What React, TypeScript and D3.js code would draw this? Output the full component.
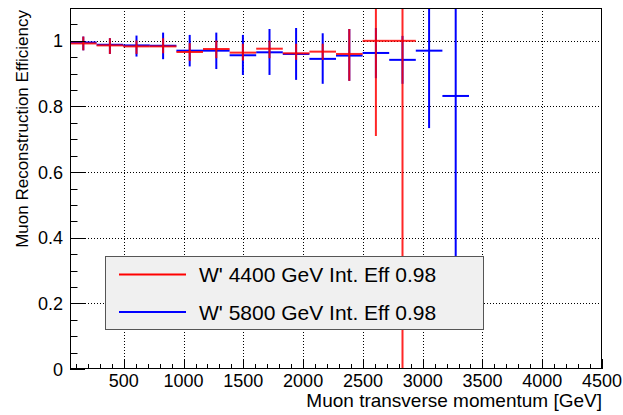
import { useEffect, useRef } from 'react';
import * as d3 from 'd3';

// Bin lower edges (GeV); every bin is BIN_W wide, axis runs from 50 to 4500.
const binLow = [50, 272.5, 495, 717.5, 940, 1162.5, 1385, 1607.5, 1830, 2052.5, 2275, 2497.5, 2720, 2942.5, 3165];
const BIN_W = 222.5;

// W' 4400 GeV: efficiency and lower / upper ends of the error bar
const redEff = [0.992, 0.986, 0.983, 0.983, 0.966, 0.975, 0.964, 0.976, 0.962, 0.967, 0.96, 1.0, 1.0];
const redLo = [0.971, 0.96, 0.96, 0.962, 0.939, 0.947, 0.94, 0.947, 0.942, 0.942, 0.878, 0.71, -0.2];
const redHi = [1.013, 1.008, 1.001, 1.008, 0.993, 1.001, 0.991, 1.001, 0.991, 0.991, 1.036, 1.29, 2.0];

// W' 5800 GeV
const blueEff = [0.995, 0.988, 0.986, 0.985, 0.97, 0.97, 0.956, 0.965, 0.96, 0.945, 0.955, 0.963, 0.942, 0.97, 0.832];
const blueLo = [0.971, 0.96, 0.952, 0.944, 0.922, 0.914, 0.896, 0.896, 0.881, 0.869, 0.878, 0.886, 0.869, 0.734, 0.3];
const blueHi = [1.013, 1.008, 1.016, 1.025, 1.018, 1.025, 1.018, 1.036, 1.039, 1.023, 1.036, 1.039, 1.015, 1.206, 1.36];

const xTicks = [500, 1000, 1500, 2000, 2500, 3000, 3500, 4000, 4500];
const yTicks = [0, 0.2, 0.4, 0.6, 0.8, 1];
const yTickLabels = ['0', '0.2', '0.4', '0.6', '0.8', '1'];

const legendLabels = ["W' 4400 GeV Int. Eff 0.98", "W' 5800 GeV Int. Eff 0.98"];
const RED = '#ff0000';
const BLUE = '#0000ff';

const FONT = '"Liberation Sans", Arial, Helvetica, sans-serif';

export default function App() {
  const ref = useRef<SVGSVGElement | null>(null);

  useEffect(() => {
    const width = 623;
    const height = 415;
    const frame = { left: 70, right: 602, top: 8, bottom: 369 };

    const svg = d3.select(ref.current);
    svg.selectAll('*').remove();
    svg.attr('width', width).attr('height', height).attr('viewBox', `0 0 ${width} ${height}`);

    const x = d3.scaleLinear().domain([50, 4500]).range([frame.left, frame.right]);
    const y = d3.scaleLinear().domain([0, 1.1]).range([frame.bottom, frame.top]);

    svg.append('rect').attr('width', width).attr('height', height).attr('fill', '#fff');

    svg
      .append('defs')
      .append('clipPath')
      .attr('id', 'plot-clip')
      .append('rect')
      .attr('x', frame.left)
      .attr('y', frame.top)
      .attr('width', frame.right - frame.left)
      .attr('height', frame.bottom - frame.top);

    // dotted grid at the major ticks
    const grid = svg.append('g').attr('stroke', '#000').attr('stroke-width', 1).attr('stroke-dasharray', '1,2');
    grid
      .selectAll('line.gx')
      .data(xTicks.filter((t) => t < 4500))
      .join('line')
      .attr('x1', (d) => Math.round(x(d)) + 0.5)
      .attr('x2', (d) => Math.round(x(d)) + 0.5)
      .attr('y1', frame.top)
      .attr('y2', frame.bottom);
    grid
      .selectAll('line.gy')
      .data(yTicks.filter((t) => t > 0))
      .join('line')
      .attr('x1', frame.left)
      .attr('x2', frame.right)
      .attr('y1', (d) => Math.round(y(d)) + 0.5)
      .attr('y2', (d) => Math.round(y(d)) + 0.5);

    // error-bar crosses, blue underneath and red on top
    const plot = svg.append('g').attr('clip-path', 'url(#plot-clip)').attr('stroke-width', 2);
    const drawSeries = (eff: number[], lo: number[], hi: number[], color: string, opacity: number) => {
      const rows = eff.map((v, i) => ({ v, lo: lo[i], hi: hi[i], x0: binLow[i] }));
      const g = plot.append('g').attr('stroke', color).attr('stroke-opacity', opacity);
      g.selectAll('line.h')
        .data(rows)
        .join('line')
        .attr('x1', (d) => x(d.x0))
        .attr('x2', (d) => x(d.x0 + BIN_W))
        .attr('y1', (d) => y(d.v))
        .attr('y2', (d) => y(d.v));
      g.selectAll('line.v')
        .data(rows)
        .join('line')
        .attr('x1', (d) => x(d.x0 + BIN_W / 2))
        .attr('x2', (d) => x(d.x0 + BIN_W / 2))
        .attr('y1', (d) => y(d.lo))
        .attr('y2', (d) => y(d.hi));
    };
    drawSeries(blueEff, blueLo, blueHi, BLUE, 1);
    drawSeries(redEff, redLo, redHi, RED, 0.85);

    // frame
    svg
      .append('rect')
      .attr('x', frame.left + 0.5)
      .attr('y', frame.top + 0.5)
      .attr('width', frame.right - frame.left - 1)
      .attr('height', frame.bottom - frame.top - 1)
      .attr('fill', 'none')
      .attr('stroke', '#000')
      .attr('stroke-width', 1);

    // ticks point into the frame, ROOT style
    const ticks = svg.append('g').attr('stroke', '#000').attr('stroke-width', 1);
    const xMinor = d3.range(100, 4501, 100);
    ticks
      .selectAll('line.xt')
      .data(xMinor)
      .join('line')
      .attr('x1', (d) => Math.round(x(d)) + 0.5)
      .attr('x2', (d) => Math.round(x(d)) + 0.5)
      .attr('y1', frame.bottom)
      .attr('y2', (d) => frame.bottom - (d % 500 === 0 ? 10 : 5));
    const yMinor = d3.range(0, 23).map((i) => i * 0.05);
    ticks
      .selectAll('line.yt')
      .data(yMinor)
      .join('line')
      .attr('x1', frame.left)
      .attr('x2', (d) => frame.left + (Math.round(d * 100) % 20 === 0 ? 15 : 7.5))
      .attr('y1', (d) => Math.round(y(d)) + 0.5)
      .attr('y2', (d) => Math.round(y(d)) + 0.5);

    const text = svg.append('g').attr('font-family', FONT).attr('fill', '#000');
    text
      .selectAll('text.xl')
      .data(xTicks)
      .join('text')
      .attr('x', (d) => x(d))
      .attr('y', 387)
      .attr('text-anchor', 'middle')
      .attr('font-size', 18)
      .text((d) => String(d));
    text
      .selectAll('text.yl')
      .data(yTicks)
      .join('text')
      .attr('x', 63)
      .attr('y', (d) => y(d) + 6.5)
      .attr('text-anchor', 'end')
      .attr('font-size', 18)
      .text((_, i) => yTickLabels[i]);
    text
      .append('text')
      .attr('x', frame.right)
      .attr('y', 407)
      .attr('text-anchor', 'end')
      .attr('font-size', 19)
      .text('Muon transverse momentum [GeV]');
    text
      .append('text')
      .attr('transform', 'rotate(-90)')
      .attr('x', -frame.top - 2)
      .attr('y', 28)
      .attr('text-anchor', 'end')
      .attr('font-size', 17)
      .text('Muon Reconstruction Efficiency');

    // legend box
    const lg = svg.append('g');
    lg.append('rect')
      .attr('x', 105.5)
      .attr('y', 256.5)
      .attr('width', 378)
      .attr('height', 73)
      .attr('fill', '#f0f0f0')
      .attr('stroke', '#555')
      .attr('stroke-width', 1);
    const entries = [
      { label: legendLabels[0], color: RED, cy: 274.5 },
      { label: legendLabels[1], color: BLUE, cy: 312 },
    ];
    lg.selectAll('line')
      .data(entries)
      .join('line')
      .attr('x1', 119)
      .attr('x2', 186)
      .attr('y1', (d) => d.cy)
      .attr('y2', (d) => d.cy)
      .attr('stroke', (d) => d.color)
      .attr('stroke-width', 2);
    lg.selectAll('text')
      .data(entries)
      .join('text')
      .attr('x', 199)
      .attr('y', (d) => d.cy + 7.5)
      .attr('font-family', FONT)
      .attr('font-size', 21)
      .text((d) => d.label);
  }, []);

  return <svg ref={ref} style={{ position: 'absolute', left: 0, top: 0, display: 'block' }} />;
}
